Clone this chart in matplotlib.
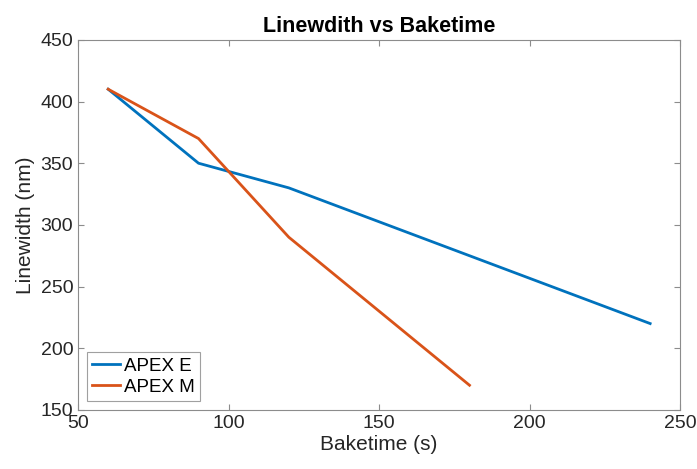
import matplotlib
matplotlib.use("Agg")
import matplotlib.pyplot as plt

plt.rcParams['font.family'] = ['Liberation Sans', 'DejaVu Sans']

# data
bake_e = [60, 90, 120, 240]
width_e = [410, 350, 330, 220]
bake_m = [60, 90, 120, 180]
width_m = [410, 370, 290, 170]

fig = plt.figure(figsize=(6.97, 4.69), dpi=100)
ax = fig.add_axes([0.112, 0.126, 0.864, 0.789])

ax.plot(bake_e, width_e, color='#0072BD', lw=2, label='APEX E')
ax.plot(bake_m, width_m, color='#D95319', lw=2, label='APEX M')

ax.set_xlim(50, 250)
ax.set_ylim(150, 450)
ax.set_xticks(range(50, 251, 50))
ax.set_yticks(range(150, 451, 50))
ax.tick_params(direction='in', top=True, right=True, labelsize=14,
               color='#8c8c8c', labelcolor='#262626', length=4)
for s in ax.spines.values():
    s.set_color('#8c8c8c')
    s.set_linewidth(0.8)

ax.set_xlabel('Baketime (s)', fontsize=15, color='#262626', labelpad=2)
ax.set_ylabel('Linewidth (nm)', fontsize=15, color='#262626', labelpad=4)
ax.set_title('Linewdith vs Baketime', fontsize=15.5, fontweight='bold', pad=6)

leg = ax.legend(loc='lower left', fontsize=13.5, fancybox=False, edgecolor='#a0a0a0',
                framealpha=1, borderaxespad=0.45, handlelength=1.5,
                handletextpad=0.2, borderpad=0.3, labelspacing=0.2)
leg.get_frame().set_linewidth(0.8)

fig.savefig('out.png', dpi=100)
